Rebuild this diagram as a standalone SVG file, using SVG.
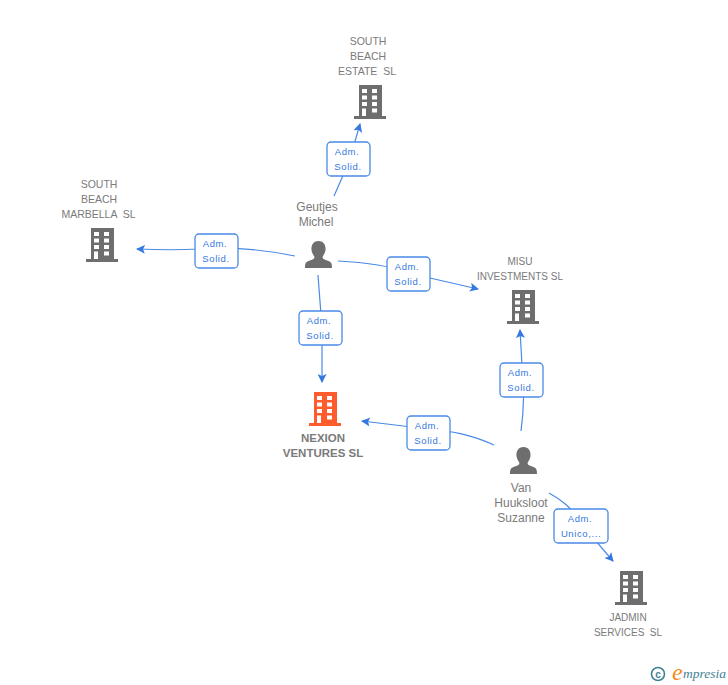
<svg xmlns="http://www.w3.org/2000/svg" xmlns:xlink="http://www.w3.org/1999/xlink" width="728" height="685" viewBox="0 0 728 685">
<style>
text{font-family:"Liberation Sans",Arial,sans-serif;white-space:pre}
.n{font-size:10.500px;fill:#7a7a7a;text-anchor:middle}
.s{font-size:10px}
.p{font-size:12px;fill:#7a7a7a;text-anchor:middle}
.m{font-size:11.500px;font-weight:bold;fill:#7a7a7a;text-anchor:middle}
.l{font-size:9.500px;fill:#3478e0;text-anchor:middle;letter-spacing:.6px}
.c{fill:none;stroke:#4a8ae6;stroke-width:1.2}
.b{fill:#fff;stroke:#4a8ae6;stroke-width:1.3}
.w{fill:#fff}
</style>
<defs>
<marker id="a" markerWidth="10" markerHeight="9" refX="8" refY="4.500" orient="auto" markerUnits="userSpaceOnUse"><path d="M0 0L9 4.500L0 9L2 4.500Z" fill="#3478e0"/></marker>
<g id="bld">
<path d="M-11-17H12V14H16V17H-16V14H-11Z"/>
<g class="w">
<rect x="-8" y="-13" width="5" height="4"/><rect x="2" y="-13" width="5" height="4"/>
<rect x="-8" y="-6.500" width="5" height="4"/><rect x="2" y="-6.500" width="5" height="4"/>
<rect x="-8" y="0" width="5" height="4"/><rect x="2" y="0" width="5" height="4"/>
<rect x="-8" y="6.500" width="4" height="7.500"/><rect x="2" y="6.500" width="5" height="4"/>
</g>
</g>
<path id="per" d="M0 0C5 0 7.500 4 7 9C6.700 12 5 14 4 16C4 18 6 18.500 10 20C13 21 13.500 23 13.500 27H-13.500C-13.500 23 -13 21 -10 20C-6 18.500 -4 18 -4 16C-5 14 -6.700 12 -7 9C-7.500 4 -5 0 0 0Z"/>
</defs>
<g id="connectors">
<path class="c" d="M334 196L349 162L360 124" marker-end="url(#a)"/>
<path class="c" d="M295 256C265 250 235 246 200 249C180 250 160 250 137 249" marker-end="url(#a)"/>
<path class="c" d="M338 261C360 262 385 264 408 273L478 289" marker-end="url(#a)"/>
<path class="c" d="M318 275L322 328V382" marker-end="url(#a)"/>
<path class="c" d="M521 431C524 410 524 385 522 365L520 330" marker-end="url(#a)"/>
<path class="c" d="M494 445C470 434 450 431 428 429L362 421" marker-end="url(#a)"/>
<path class="c" d="M549 493C560 499 572 507 582 525L613 561" marker-end="url(#a)"/>
</g>
<g id="label1"><rect class="b" x="327" y="142" width="43" height="34" rx="4"/><text class="l" x="347" y="155">Adm.</text><text class="l" x="348" y="170">Solid.</text></g>
<g id="label2"><rect class="b" x="195" y="234" width="43" height="34" rx="4"/><text class="l" x="215" y="247">Adm.</text><text class="l" x="216" y="262">Solid.</text></g>
<g id="label3"><rect class="b" x="387" y="257" width="43" height="34" rx="4"/><text class="l" x="407" y="270">Adm.</text><text class="l" x="408" y="285">Solid.</text></g>
<g id="label4"><rect class="b" x="299" y="311" width="43" height="34" rx="4"/><text class="l" x="319" y="324">Adm.</text><text class="l" x="320" y="339">Solid.</text></g>
<g id="label5"><rect class="b" x="500" y="363" width="43" height="34" rx="4"/><text class="l" x="520" y="376">Adm.</text><text class="l" x="521" y="391">Solid.</text></g>
<g id="label6"><rect class="b" x="407" y="416" width="43" height="34" rx="4"/><text class="l" x="427" y="429">Adm.</text><text class="l" x="428" y="444">Solid.</text></g>
<g id="label7"><rect class="b" x="554" y="509" width="54" height="34" rx="4"/><text class="l" x="580" y="522">Adm.</text><text class="l" x="581" y="537">Unico,...</text></g>
<g id="node-south-beach-estate" fill="#6e6e6e"><text class="n" x="368" y="45">SOUTH</text><text class="n" x="368" y="60">BEACH</text><text class="n" x="367" y="75">ESTATE  SL</text><use xlink:href="#bld" x="370" y="102"/></g>
<g id="node-south-beach-marbella" fill="#6e6e6e"><text class="n" x="99" y="188">SOUTH</text><text class="n" x="99" y="203">BEACH</text><text class="n" x="98.500" y="218">MARBELLA  SL</text><use xlink:href="#bld" x="102" y="245"/></g>
<g id="node-misu" fill="#6e6e6e"><text class="n s" x="520" y="265">MISU</text><text class="n s" x="520" y="280">INVESTMENTS SL</text><use xlink:href="#bld" x="523" y="307"/></g>
<g id="node-jadmin" fill="#6e6e6e"><text class="n s" x="628" y="621">JADMIN</text><text class="n s" x="628" y="636">SERVICES  SL</text><use xlink:href="#bld" x="631" y="588"/></g>
<g id="node-nexion" fill="#ff5c2e"><use xlink:href="#bld" x="325" y="409"/><text class="m" x="323" y="442">NEXION</text><text class="m" x="323" y="457">VENTURES SL</text></g>
<g id="node-geutjes" fill="#6e6e6e"><text class="p" x="317" y="211">Geutjes</text><text class="p" x="316" y="226">Michel</text><use xlink:href="#per" x="318.500" y="241"/></g>
<g id="node-van" fill="#6e6e6e"><use xlink:href="#per" x="523.500" y="447"/><text class="p" x="521" y="492">Van</text><text class="p" x="521" y="507">Huuksloot</text><text class="p" x="521" y="522">Suzanne</text></g>
<g id="logo"><circle cx="658" cy="674" r="6.500" fill="none" stroke="#3f8296" stroke-width="1.600"/><text x="658" y="677.500" font-size="10" font-weight="bold" fill="#3f8296" text-anchor="middle">c</text><text x="672" y="680" font-size="24" font-style="italic" fill="#f08a1d" style="font-family:'Liberation Serif',serif">e</text><text x="683" y="678" font-size="13.500" font-style="italic" fill="#3f8296" style="font-family:'Liberation Serif',serif">mpresia</text></g>
</svg>
